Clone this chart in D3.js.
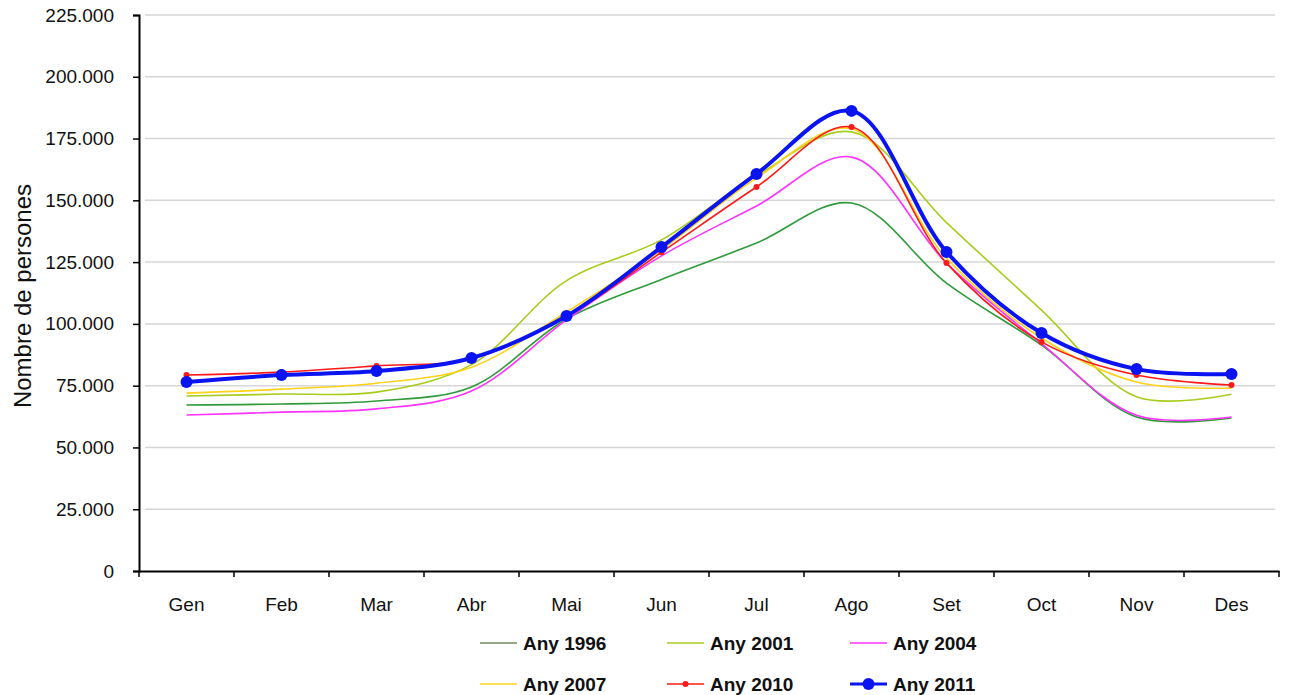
<!DOCTYPE html>
<html><head><meta charset="utf-8">
<script src="https://cdn.jsdelivr.net/npm/d3@7"></script>
<style>body{margin:0;background:#fff;} text{font-family:"Liberation Sans",Arial,sans-serif;fill:#111;}</style>
</head><body>
<svg id="c" width="1293" height="695"></svg>
<script>
const months = ["Gen","Feb","Mar","Abr","Mai","Jun","Jul","Ago","Set","Oct","Nov","Des"];
const yTicks = [0,25000,50000,75000,100000,125000,150000,175000,200000,225000];
const any1996 = [67200,67600,68800,74500,102000,118000,132700,148900,116500,91400,62300,61900];
const any2001 = [70800,71600,72400,83500,117500,134000,160000,177700,141000,105600,70500,71500];
const any2004 = [63100,64300,65600,72800,101600,127500,147700,167500,124600,92000,63000,62300];
const any2007 = [72000,73600,76000,82500,104800,130000,159000,179000,126600,94300,76500,74000];
const any2010 = [79300,80500,83000,86000,103000,129000,155400,179700,124600,92700,79300,75300];
const any2011 = [76500,79300,80900,86200,103200,131100,160700,186200,129100,96300,81700,79700];

const series = [
  {name:"Any 1996", data:any1996, color:"#2e9a3a", w:1.6, r:0},
  {name:"Any 2001", data:any2001, color:"#a8cc1c", w:1.6, r:0},
  {name:"Any 2004", data:any2004, color:"#ff33ff", w:1.6, r:0},
  {name:"Any 2007", data:any2007, color:"#ffd21a", w:1.6, r:0},
  {name:"Any 2010", data:any2010, color:"#ff1a1a", w:1.6, r:3},
  {name:"Any 2011", data:any2011, color:"#0a14f0", w:4, r:6}
];

const svg = d3.select("#c");
const x0 = 139, x1 = 1279, yTop = 15, yBot = 571;
const x = d3.scaleBand().domain(months).range([x0, x1]);
const y = d3.scaleLinear().domain([0,225000]).range([yBot, yTop]);
const fmt = v => v === 0 ? "0" : d3.format(",")(v).replace(/,/g, ".");

// gridlines
svg.append("g").selectAll("line").data(yTicks.filter(d=>d>0)).join("line")
  .attr("x1", x0+6).attr("x2", x1-4)
  .attr("y1", d=>y(d)).attr("y2", d=>y(d))
  .attr("stroke", "#d6d6d6").attr("stroke-width", 1.5);

// y axis
const ya = svg.append("g").attr("transform", `translate(${x0},0)`)
  .call(d3.axisLeft(y).tickValues(yTicks).tickFormat(fmt).tickSize(6).tickPadding(19));
ya.select(".domain").attr("stroke","#000").attr("stroke-width",2);
ya.selectAll(".tick line").attr("stroke","#000").attr("stroke-width",1.5);
ya.selectAll(".tick text").attr("font-size","19px").attr("fill","#111").attr("font-family","Liberation Sans, Arial, sans-serif");

// x axis
const xa = svg.append("g").attr("transform", `translate(0,${yBot})`)
  .call(d3.axisBottom(x).tickSize(0).tickPadding(27));
xa.select(".domain").attr("stroke","#000").attr("stroke-width",2);
xa.selectAll(".tick text").attr("font-size","19px").attr("fill","#111").attr("font-family","Liberation Sans, Arial, sans-serif");
const bounds = months.map(m => x(m)).concat([x1]);
svg.append("g").selectAll("line").data(bounds).join("line")
  .attr("x1", d=>d).attr("x2", d=>d).attr("y1", yBot).attr("y2", yBot+6)
  .attr("stroke","#000").attr("stroke-width",1.5);

// y title
svg.append("text").attr("transform","translate(31,296) rotate(-90)")
  .attr("text-anchor","middle").attr("font-size","24px").attr("fill","#111").text("Nombre de persones");

const cx = m => x(m) + x.bandwidth()/2;
const line = d3.line().x((d,i)=>cx(months[i])).y(d=>y(d)).curve(d3.curveCatmullRom.alpha(0.5));

series.forEach(s => {
  svg.append("path").attr("d", line(s.data)).attr("fill","none")
    .attr("stroke", s.color).attr("stroke-width", s.w).attr("stroke-linejoin","round");
  if (s.r) {
    svg.append("g").selectAll("circle").data(s.data).join("circle")
      .attr("cx",(d,i)=>cx(months[i])).attr("cy",d=>y(d)).attr("r",s.r).attr("fill",s.color);
  }
});

// legend
const legCols = [480, 667, 850];
const legRows = [643, 684];
series.forEach((s,i) => {
  const lx = legCols[i%3], ly = legRows[Math.floor(i/3)];
  const g = svg.append("g");
  g.append("line").attr("x1",lx).attr("x2",lx+37).attr("y1",ly).attr("y2",ly)
    .attr("stroke", i===0 ? "#6f8a5f" : s.color).attr("stroke-width", s.w === 4 ? 3 : 1.6);
  if (s.r) g.append("circle").attr("cx",lx+18.5).attr("cy",ly).attr("r", s.r === 6 ? 6 : 3).attr("fill",s.color);
  g.append("text").attr("x",lx+43).attr("y",ly+7).attr("font-size","19px").attr("font-weight","bold").attr("fill","#111").text(s.name);
});
</script>
</body></html>
